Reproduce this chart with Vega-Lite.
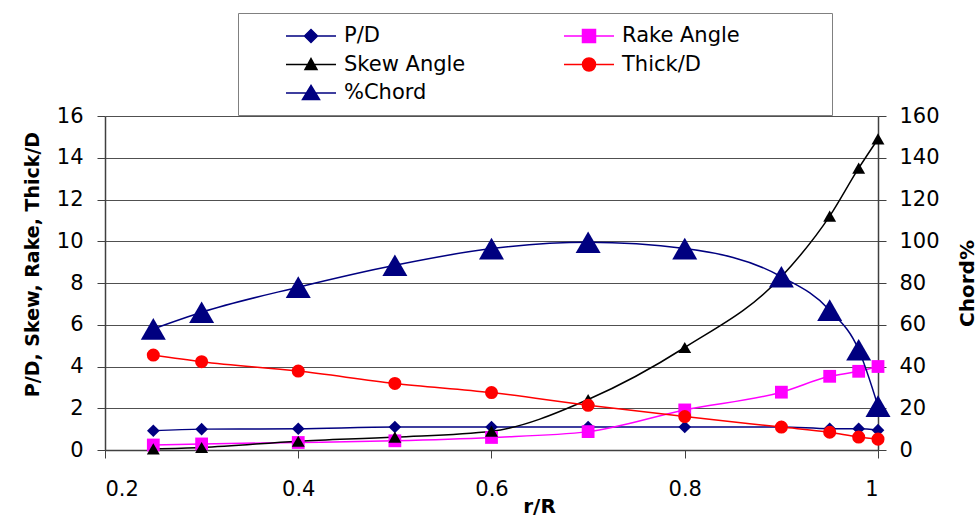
{
  "$schema": "https://vega.github.io/schema/vega-lite/v6.json",
  "width": 773,
  "height": 334,
  "autosize": {"type": "none"},
  "padding": {"left": 105, "top": 116, "right": 101, "bottom": 73},
  "background": "white",
  "config": {
    "view": {"stroke": null},
    "font": "DejaVu Sans",
    "axis": {
      "labelFont": "DejaVu Sans",
      "titleFont": "DejaVu Sans",
      "labelFontSize": 21,
      "labelColor": "black",
      "titleColor": "black",
      "titleFontSize": 20,
      "titleFontWeight": "bold",
      "domainColor": "#404040",
      "domainWidth": 1.5,
      "tickColor": "#404040",
      "tickSize": 8,
      "tickWidth": 1
    }
  },
  "data": {
    "values": [
      {"r": 0.25, "series": "P/D", "value": 0.92},
      {"r": 0.3, "series": "P/D", "value": 1.0},
      {"r": 0.4, "series": "P/D", "value": 1.02},
      {"r": 0.5, "series": "P/D", "value": 1.1},
      {"r": 0.6, "series": "P/D", "value": 1.1},
      {"r": 0.7, "series": "P/D", "value": 1.1},
      {"r": 0.8, "series": "P/D", "value": 1.1},
      {"r": 0.9, "series": "P/D", "value": 1.1},
      {"r": 0.95, "series": "P/D", "value": 1.02},
      {"r": 0.98, "series": "P/D", "value": 1.02},
      {"r": 1.0, "series": "P/D", "value": 0.95},
      {"r": 0.25, "series": "Rake Angle", "value": 0.24},
      {"r": 0.3, "series": "Rake Angle", "value": 0.29},
      {"r": 0.4, "series": "Rake Angle", "value": 0.36},
      {"r": 0.5, "series": "Rake Angle", "value": 0.44},
      {"r": 0.6, "series": "Rake Angle", "value": 0.6},
      {"r": 0.7, "series": "Rake Angle", "value": 0.88},
      {"r": 0.8, "series": "Rake Angle", "value": 1.92},
      {"r": 0.9, "series": "Rake Angle", "value": 2.77},
      {"r": 0.95, "series": "Rake Angle", "value": 3.53},
      {"r": 0.98, "series": "Rake Angle", "value": 3.77},
      {"r": 1.0, "series": "Rake Angle", "value": 4.0},
      {"r": 0.25, "series": "Skew Angle", "value": 0.05},
      {"r": 0.3, "series": "Skew Angle", "value": 0.12},
      {"r": 0.4, "series": "Skew Angle", "value": 0.42},
      {"r": 0.5, "series": "Skew Angle", "value": 0.62},
      {"r": 0.6, "series": "Skew Angle", "value": 0.9},
      {"r": 0.7, "series": "Skew Angle", "value": 2.42},
      {"r": 0.8, "series": "Skew Angle", "value": 4.91},
      {"r": 0.9, "series": "Skew Angle", "value": 8.3},
      {"r": 0.95, "series": "Skew Angle", "value": 11.2},
      {"r": 0.98, "series": "Skew Angle", "value": 13.5},
      {"r": 1.0, "series": "Skew Angle", "value": 14.9},
      {"r": 0.25, "series": "Thick/D", "value": 4.55},
      {"r": 0.3, "series": "Thick/D", "value": 4.23},
      {"r": 0.4, "series": "Thick/D", "value": 3.78},
      {"r": 0.5, "series": "Thick/D", "value": 3.19},
      {"r": 0.6, "series": "Thick/D", "value": 2.75},
      {"r": 0.7, "series": "Thick/D", "value": 2.14},
      {"r": 0.8, "series": "Thick/D", "value": 1.6},
      {"r": 0.9, "series": "Thick/D", "value": 1.1},
      {"r": 0.95, "series": "Thick/D", "value": 0.85},
      {"r": 0.98, "series": "Thick/D", "value": 0.62},
      {"r": 1.0, "series": "Thick/D", "value": 0.52},
      {"r": 0.25, "series": "%Chord", "value": 58},
      {"r": 0.3, "series": "%Chord", "value": 66},
      {"r": 0.4, "series": "%Chord", "value": 78},
      {"r": 0.5, "series": "%Chord", "value": 88.5},
      {"r": 0.6, "series": "%Chord", "value": 96.5},
      {"r": 0.7, "series": "%Chord", "value": 99.5},
      {"r": 0.8, "series": "%Chord", "value": 96.5},
      {"r": 0.9, "series": "%Chord", "value": 83},
      {"r": 0.95, "series": "%Chord", "value": 67},
      {"r": 0.98, "series": "%Chord", "value": 48},
      {"r": 1.0, "series": "%Chord", "value": 21}
    ]
  },
  "encoding": {
    "x": {
      "field": "r",
      "type": "quantitative",
      "scale": {"domain": [0.2, 1], "nice": false, "zero": false},
      "axis": {
        "values": [0.2, 0.4, 0.6, 0.8, 1],
        "format": "~g",
        "grid": false,
        "labelPadding": 20,
        "title": "r/R",
        "titleX": 434,
        "titleY": 62,
        "titleBaseline": "alphabetic",
        "titleAnchor": null
      }
    },
    "color": {
      "field": "series",
      "type": "nominal",
      "scale": {
        "domain": ["P/D", "Skew Angle", "%Chord", "Rake Angle", "Thick/D"],
        "range": ["#000080", "#000000", "#000080", "#FF00FF", "#FF0000"]
      },
      "legend": {
        "orient": "none",
        "legendX": 133,
        "legendY": -103,
        "columns": 2,
        "gridAlign": "each",
        "title": " ",
        "titleOrient": "right",
        "titlePadding": 80,
        "titleFontSize": 4,
        "strokeColor": "#808080",
        "fillColor": "white",
        "padding": 12,
        "symbolSize": 400,
        "symbolStrokeWidth": 1.5,
        "labelFont": "DejaVu Sans",
        "labelFontSize": 21,
        "labelColor": "black",
        "labelOffset": 72,
        "columnPadding": 60,
        "rowPadding": 7.5,
        "labelLimit": 400,
        "encode": {
          "symbols": {
            "update": {
              "shape": {"signal": "datum.value === 'P/D' ? 'M-1,0M2.5,0H7.5M5,-0.65L5.65,0L5,0.65L4.35,0Z' : datum.value === 'Rake Angle' ? 'M-1,0M2.5,0H7.5M4.35,-0.65H5.65V0.65H4.35Z' : datum.value === 'Skew Angle' ? 'M-1,0M2.5,0H7.5M5,-0.6L5.6,0.5H4.4Z' : datum.value === 'Thick/D' ? 'M-1,0M2.5,0H7.5M4.35,0A0.65,0.65,0,1,0,5.65,0A0.65,0.65,0,1,0,4.35,0Z' : 'M-1,0M2.5,0H7.5M5,-0.75L5.85,0.65H4.15Z'"},
              "fill": {"signal": "scale('color', datum.value)"},
              "stroke": {"signal": "scale('color', datum.value)"},
              "strokeWidth": {"value": 1.5},
              "opacity": {"value": 1},
              "fillOpacity": {"value": 1},
              "strokeOpacity": {"value": 1}
            }
          }
        }
      }
    }
  },
  "layer": [
    {
      "transform": [{"filter": "datum.series !== '%Chord'"}],
      "encoding": {
        "y": {
          "field": "value",
          "type": "quantitative",
          "scale": {"domain": [0, 16], "nice": false},
          "axis": {
            "values": [0, 2, 4, 6, 8, 10, 12, 14, 16],
            "grid": true,
            "gridColor": "#505050",
            "gridWidth": 1,
            "labelPadding": 14,
            "title": "P/D, Skew, Rake, Thick/D",
            "titleFontSize": 19,
            "titleX": -73,
            "titleY": 148,
            "titleBaseline": "middle",
            "titleAnchor": null
          }
        }
      },
      "layer": [
        {"mark": {"type": "line", "interpolate": "monotone", "strokeWidth": 1.5}},
        {
          "mark": {"type": "point", "filled": true, "opacity": 1, "strokeWidth": 1},
          "encoding": {
            "shape": {
              "field": "series",
              "type": "nominal",
              "scale": {"domain": ["P/D", "Rake Angle", "Skew Angle", "Thick/D"], "range": ["diamond", "square", "triangle-up", "circle"]},
              "legend": null
            },
            "size": {
              "field": "series",
              "type": "nominal",
              "scale": {"domain": ["P/D", "Rake Angle", "Skew Angle", "Thick/D"], "range": [160, 170, 150, 196]},
              "legend": null
            }
          }
        }
      ]
    },
    {
      "transform": [{"filter": "datum.series === '%Chord'"}],
      "encoding": {
        "y": {
          "field": "value",
          "type": "quantitative",
          "scale": {"domain": [0, 160], "nice": false},
          "axis": {
            "orient": "right",
            "values": [0, 20, 40, 60, 80, 100, 120, 140, 160],
            "grid": false,
            "labelPadding": 13,
            "title": "Chord%",
            "titleAngle": -90,
            "titleX": 89,
            "titleY": 167,
            "titleBaseline": "middle",
            "titleAnchor": null
          }
        }
      },
      "layer": [
        {"mark": {"type": "line", "interpolate": "monotone", "strokeWidth": 1.5}},
        {"mark": {"type": "point", "filled": true, "opacity": 1, "shape": "triangle-up", "size": 625}}
      ]
    }
  ],
  "resolve": {"scale": {"y": "independent"}}
}
